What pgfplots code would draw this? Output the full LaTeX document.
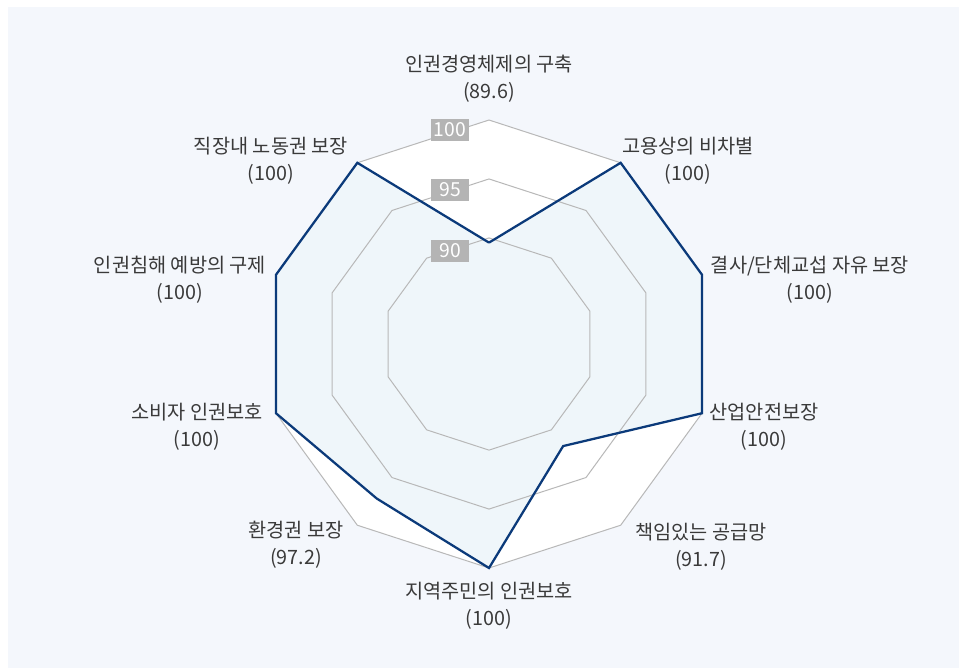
\documentclass[border=0pt]{standalone}
\usepackage{fontspec}
\setmainfont{Noto Sans CJK KR}
\usepackage{pgfplots}
\pgfplotsset{compat=1.18}
\usepgfplotslibrary{polar}

\definecolor{panel}{HTML}{F4F7FC}
\definecolor{ringgray}{HTML}{B8B8B8}
\definecolor{navy}{HTML}{0B3A7A}
\definecolor{areafill}{HTML}{EFF6FA}
\definecolor{txt}{HTML}{3A3A3A}
\definecolor{tickbox}{HTML}{B4B4B4}

% angle (deg), score
\pgfplotstableread{
ang val
90  89.6
54  100
18  100
342 100
306 91.7
270 100
234 97.2
198 100
162 100
126 100
90  89.6
}\scores

\newcommand\ring[1]{\addplot[draw=ringgray, line width=0.75pt] coordinates
  {(90,#1) (54,#1) (18,#1) (342,#1) (306,#1) (270,#1) (234,#1) (198,#1) (162,#1) (126,#1) (90,#1)};}

\begin{document}
\begin{tikzpicture}
\def\u{0.75pt}
\fill[white] (0,0) rectangle (959*\u,-668*\u);
\fill[panel] (8*\u,-7*\u) rectangle (959*\u,-668*\u);

\begin{polaraxis}[
  at={(489*\u,-344*\u)}, anchor=center,
  scale only axis, width=336pt, height=336pt,
  hide axis, clip=false,
  y coord trafo/.code={\pgfmathparse{#1-81}},
  ymin=81, ymax=100,
  xtick=\empty, ytick=\empty,
]
\addplot[draw=ringgray, line width=0.75pt, fill=white] coordinates
  {(90,100) (54,100) (18,100) (342,100) (306,100) (270,100) (234,100) (198,100) (162,100) (126,100) (90,100)};
\addplot[draw=none, fill=areafill] table[x=ang, y=val] {\scores};
\ring{95}
\ring{90}
\addplot[draw=navy, line width=1.7pt, line join=miter] table[x=ang, y=val] {\scores};
\end{polaraxis}

\begin{scope}[every node/.style={text=white, fill=tickbox, minimum width=38*\u, minimum height=22*\u, inner sep=0pt, font=\fontsize{14.5}{16}\selectfont}]
\node at (450*\u,-130*\u) {100};
\node at (450*\u,-190*\u) {95};
\node at (450*\u,-251*\u) {90};
\end{scope}

\begin{scope}[every node/.style={text=txt, align=center, inner sep=0pt, font=\fontsize{14.8}{20.5}\selectfont}]
\node at (489*\u,-79*\u)    {인권경영체제의 구축\\(89.6)};
\node at (688*\u,-160.5*\u) {고용상의 비차별\\(100)};
\node at (810*\u,-279.5*\u) {결사/단체교섭 자유 보장\\(100)};
\node at (764*\u,-426.5*\u) {산업안전보장\\(100)};
\node at (701*\u,-546.5*\u) {책임있는 공급망\\(91.7)};
\node at (489*\u,-605.5*\u) {지역주민의 인권보호\\(100)};
\node at (296*\u,-545*\u)   {환경권 보장\\(97.2)};
\node at (197*\u,-426.5*\u) {소비자 인권보호\\(100)};
\node at (180*\u,-279.5*\u) {인권침해 예방의 구제\\(100)};
\node at (271*\u,-160.5*\u) {직장내 노동권 보장\\(100)};
\end{scope}
\end{tikzpicture}
\end{document}
